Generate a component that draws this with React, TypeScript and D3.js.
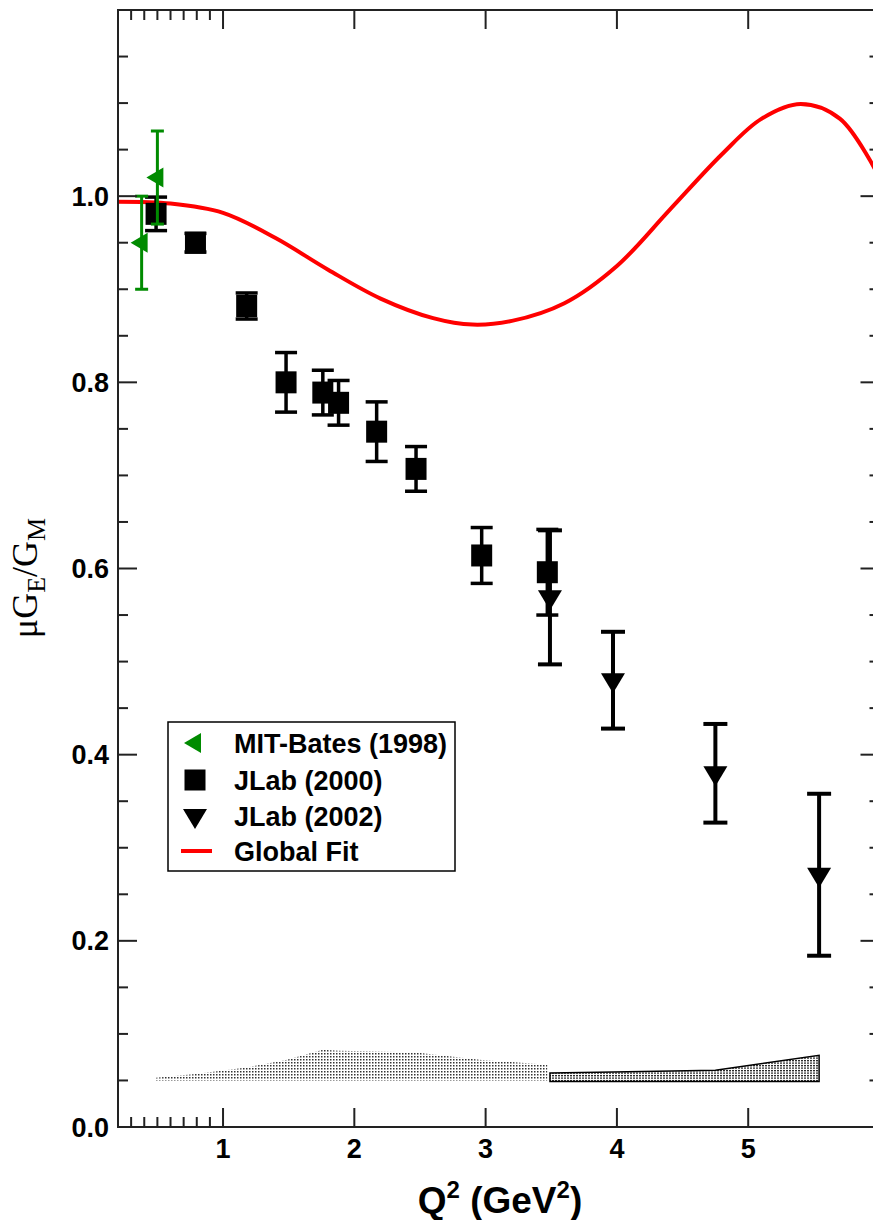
import * as React from "react";
import * as d3 from "d3";

// MIT-Bates (1998)
const batesQ2 = [0.38, 0.5];
const batesRatio = [0.95, 1.02];
const batesErr = [0.05, 0.05];

// JLab (2000)
const jlab2000Q2 = [0.49, 0.79, 1.18, 1.48, 1.76, 1.88, 2.17, 2.47, 2.97, 3.47];
const jlab2000Ratio = [0.981, 0.95, 0.882, 0.8, 0.789, 0.778, 0.747, 0.707, 0.614, 0.596];
const jlab2000Err = [0.018, 0.01, 0.014, 0.032, 0.024, 0.024, 0.032, 0.024, 0.03, 0.046];

// JLab (2002)
const jlab2002Q2 = [3.49, 3.97, 4.75, 5.54];
const jlab2002Ratio = [0.569, 0.48, 0.38, 0.271];
const jlab2002Err = [0.072, 0.052, 0.053, 0.087];

// global fit
const fitQ2 = [0.2, 0.6, 1.0, 1.4, 1.8, 2.2, 2.6, 2.9, 3.2, 3.6, 4.0, 4.4, 4.8, 5.1, 5.4, 5.7, 6.0];
const fitRatio = [0.994, 0.992, 0.982, 0.955, 0.921, 0.89, 0.869, 0.862, 0.866, 0.885, 0.925, 0.985, 1.045, 1.083, 1.099, 1.083, 1.02];

// systematic error bands
const sys2000Top = [0.053, 0.057, 0.064, 0.072, 0.083, 0.082, 0.081, 0.08, 0.072, 0.067];
const sys2000Base = 0.05;
const sys2002Top = [0.058, 0.059, 0.061, 0.077];
const sys2002Base = 0.049;

const xMajor = [1, 2, 3, 4, 5];
const xMinor = [0.3, 0.4, 0.5, 0.6, 0.7, 0.8, 0.9];
const yLabels = ["0.0", "0.2", "0.4", "0.6", "0.8", "1.0"];

const legendItems = ["MIT-Bates (1998)", "JLab (2000)", "JLab (2002)", "Global Fit"];

const W = 873;
const H = 1220;
const left = 118;
const right = 879.5;
const top = 10;
const bottom = 1127;

const GREEN = "#008b00";
const font = "'Liberation Sans', Arial, sans-serif";

export default function App() {
  const x = d3.scaleLinear().domain([0.2, 6]).range([left, right]);
  const y = d3.scaleLinear().domain([0, 1.2]).range([bottom, top]);

  const yMajor = d3.range(0, 1.21, 0.2);
  const yMinor = d3.range(0, 1.2, 0.05).filter((v) => Math.abs(v / 0.2 - Math.round(v / 0.2)) > 0.01);

  const fitLine = d3
    .line<number>()
    .x((d, i) => x(fitQ2[i]))
    .y((d) => y(d))
    .curve(d3.curveCatmullRom.alpha(0.5));

  const area2000 = d3
    .area<number>()
    .x((d, i) => x(jlab2000Q2[i]))
    .y0(y(sys2000Base))
    .y1((d) => y(d));
  const area2002 = d3
    .area<number>()
    .x((d, i) => x(jlab2002Q2[i]))
    .y0(y(sys2002Base))
    .y1((d) => y(d));

  const errBar = (cx: number, v: number, e: number, cap: number, color: string, sw: number, key: string) => (
    <g key={key} stroke={color} strokeWidth={sw}>
      <line x1={cx} x2={cx} y1={y(v - e)} y2={y(v + e)} />
      <line x1={cx - cap / 2} x2={cx + cap / 2} y1={y(v - e)} y2={y(v - e)} />
      <line x1={cx - cap / 2} x2={cx + cap / 2} y1={y(v + e)} y2={y(v + e)} />
    </g>
  );

  const leftTri = (cx: number, cy: number) =>
    `M${cx - 11},${cy} L${cx + 6},${cy - 10} L${cx + 6},${cy + 10} Z`;
  const downTri = (cx: number, cy: number) =>
    `M${cx - 12},${cy - 7} L${cx + 12},${cy - 7} L${cx},${cy + 13} Z`;

  const legX = 195;
  const legRows = [743, 780, 816, 851];

  return (
    <svg
      width={W}
      height={H}
      style={{ position: "absolute", left: 0, top: 0, background: "#fff" }}
    >
      <defs>
        <pattern id="dots1" width={3} height={3} patternUnits="userSpaceOnUse">
          <rect width={1.5} height={1.5} fill="#333" />
        </pattern>
        <pattern id="dots2" width={3} height={2.5} patternUnits="userSpaceOnUse">
          <rect width={2} height={1.3} fill="#222" />
        </pattern>
        <clipPath id="plot">
          <rect x={left} y={top} width={right - left} height={bottom - top} />
        </clipPath>
      </defs>

      {/* systematic bands */}
      <path d={area2000(sys2000Top) || ""} fill="url(#dots1)" />
      <path d={area2002(sys2002Top) || ""} fill="url(#dots2)" stroke="#000" strokeWidth={1.5} />

      {/* fit */}
      <path
        d={fitLine(fitRatio) || ""}
        fill="none"
        stroke="#ff0000"
        strokeWidth={4}
        clipPath="url(#plot)"
      />

      {/* JLab 2000 */}
      {jlab2000Q2.map((q, i) => errBar(x(q), jlab2000Ratio[i], jlab2000Err[i], 22, "#000", 3.5, "e0" + i))}
      {jlab2000Q2.map((q, i) => (
        <rect key={"s" + i} x={x(q) - 10.5} y={y(jlab2000Ratio[i]) - 11} width={21} height={22} fill="#000" />
      ))}

      {/* JLab 2002 */}
      {jlab2002Q2.map((q, i) => errBar(x(q), jlab2002Ratio[i], jlab2002Err[i], 24, "#000", 4, "e2" + i))}
      {jlab2002Q2.map((q, i) => (
        <path key={"t" + i} d={downTri(x(q), y(jlab2002Ratio[i]))} fill="#000" />
      ))}

      {/* MIT-Bates */}
      {batesQ2.map((q, i) => errBar(x(q), batesRatio[i], batesErr[i], 13, GREEN, 3, "eb" + i))}
      {batesQ2.map((q, i) => (
        <path key={"b" + i} d={leftTri(x(q), y(batesRatio[i]))} fill={GREEN} />
      ))}

      {/* axes frame */}
      <rect x={left} y={top} width={right - left} height={bottom - top} fill="none" stroke="#222" strokeWidth={2} />

      {/* x ticks */}
      {xMajor.map((v) => (
        <g key={"xm" + v} stroke="#222" strokeWidth={2}>
          <line x1={x(v)} x2={x(v)} y1={bottom} y2={bottom - 19} />
          <line x1={x(v)} x2={x(v)} y1={top} y2={top + 19} />
        </g>
      ))}
      {xMinor.map((v) => (
        <g key={"xn" + v} stroke="#222" strokeWidth={2}>
          <line x1={x(v)} x2={x(v)} y1={bottom} y2={bottom - 10} />
          <line x1={x(v)} x2={x(v)} y1={top} y2={top + 10} />
        </g>
      ))}
      {xMajor.map((v) => (
        <text
          key={"xl" + v}
          x={x(v)}
          y={bottom + 31}
          textAnchor="middle"
          fontFamily={font}
          fontWeight="bold"
          fontSize={27}
        >
          {v}
        </text>
      ))}

      {/* y ticks */}
      {yMajor.map((v) => (
        <g key={"ym" + v} stroke="#222" strokeWidth={2}>
          <line x1={left} x2={left + 19} y1={y(v)} y2={y(v)} />
          <line x1={right} x2={right - 19} y1={y(v)} y2={y(v)} />
        </g>
      ))}
      {yMinor.map((v) => (
        <g key={"yn" + v} stroke="#222" strokeWidth={2}>
          <line x1={left} x2={left + 10} y1={y(v)} y2={y(v)} />
          <line x1={right} x2={right - 10} y1={y(v)} y2={y(v)} />
        </g>
      ))}
      {yLabels.map((t, i) => (
        <text
          key={"yl" + t}
          x={left - 9}
          y={y(i * 0.2) + 9.5}
          textAnchor="end"
          fontFamily={font}
          fontWeight="bold"
          fontSize={27}
        >
          {t}
        </text>
      ))}

      {/* axis titles */}
      <text
        x={500}
        y={1213}
        textAnchor="middle"
        fontFamily={font}
        fontWeight="bold"
        fontSize={37}
      >
        Q<tspan fontSize={24} dy={-15}>2</tspan>
        <tspan dy={15}> (GeV</tspan>
        <tspan fontSize={24} dy={-15}>2</tspan>
        <tspan dy={15}>)</tspan>
      </text>
      <text
        transform="translate(37,578) rotate(-90)"
        textAnchor="middle"
        fontFamily="'Liberation Serif', 'Times New Roman', serif"
        fontSize={36}
      >
        μG<tspan fontSize={26} dy={8}>E</tspan>
        <tspan dy={-8}>/G</tspan>
        <tspan fontSize={26} dy={8}>M</tspan>
      </text>

      {/* legend */}
      <rect x={168} y={722} width={287} height={149} fill="none" stroke="#000" strokeWidth={1.5} />
      <path d={leftTri(legX, legRows[0])} fill={GREEN} />
      <rect x={legX - 10.5} y={legRows[1] - 10.5} width={21} height={21} fill="#000" />
      <path d={downTri(legX, legRows[2])} fill="#000" />
      <line x1={181} x2={212} y1={legRows[3]} y2={legRows[3]} stroke="#ff0000" strokeWidth={4} />
      {legendItems.map((t, i) => (
        <text
          key={t}
          x={234}
          y={legRows[i] + 9.5}
          fontFamily={font}
          fontWeight="bold"
          fontSize={27}
        >
          {t}
        </text>
      ))}
    </svg>
  );
}
